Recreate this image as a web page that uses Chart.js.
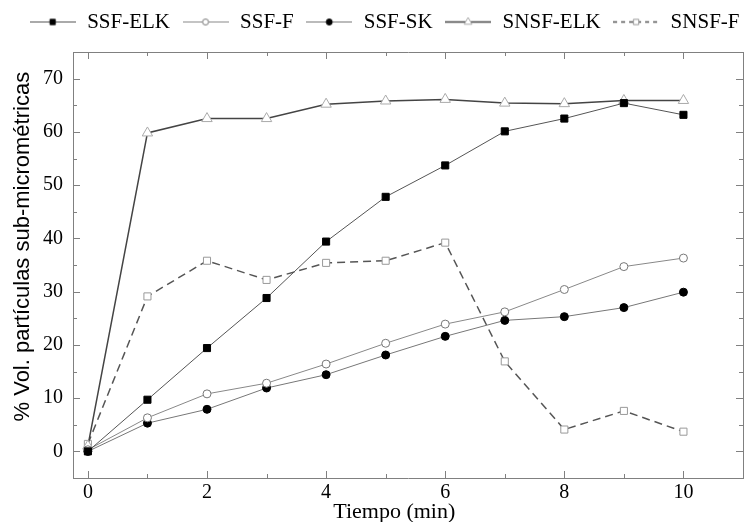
<!DOCTYPE html>
<html>
<head>
<meta charset="utf-8">
<script src="https://cdn.jsdelivr.net/npm/chart.js@4.4.1/dist/chart.umd.min.js"></script>
<style>
  html, body { margin: 0; padding: 0; background: #fff; }
  #wrap { width: 751px; height: 522px; }
</style>
</head>
<body>
<div id="wrap"><canvas id="myChart"></canvas></div>
<script>
// data
let TIEMPO = [0, 1, 2, 3, 4, 5, 6, 7, 8, 9, 10]
let SSF_ELK = [0, 9.7, 19.4, 28.8, 39.4, 47.8, 53.7, 60.1, 62.5, 65.4, 63.2]
let SSF_F = [0.3, 6.3, 10.8, 12.8, 16.4, 20.3, 23.9, 26.2, 30.4, 34.7, 36.3]
let SSF_SK = [0, 5.3, 7.9, 11.9, 14.4, 18.1, 21.6, 24.6, 25.3, 27.0, 29.9]
let SNSF_ELK = [1.0, 59.8, 62.5, 62.5, 65.2, 65.8, 66.1, 65.4, 65.3, 65.9, 65.9]
let SNSF_F = [1.4, 29.1, 35.8, 32.2, 35.4, 35.8, 39.2, 16.9, 4.1, 7.6, 3.7]

let X_TICKS = [0, 2, 4, 6, 8, 10]
let X_MINOR = [1, 3, 5, 7, 9]
let Y_TICKS = [0, 10, 20, 30, 40, 50, 60, 70]
let Y_MINOR = [5, 15, 25, 35, 45, 55, 65]

const AXIS_GRAY = '#808080'
const SERIF = "'Liberation Serif', 'Times New Roman', serif"
const SANS = "'Liberation Sans', Arial, sans-serif"
const NB = '\u00a0'

let ctx = document.getElementById('myChart');

// legend icon: line - marker - line, drawn once into a small canvas
function legendIcon(ds) {
    let c = document.createElement('canvas');
    c.width = 46;
    c.height = 21;
    let g = c.getContext('2d');
    g.strokeStyle = ds.borderColor;
    g.lineWidth = ds.borderWidth;
    g.setLineDash(ds.legendDash || []);
    g.beginPath();
    g.moveTo(0, 10.5);
    g.lineTo(46, 10.5);
    g.stroke();
    g.setLineDash([]);
    g.fillStyle = ds.pointBackgroundColor;
    g.strokeStyle = ds.pointBorderColor;
    g.lineWidth = 1;
    Chart.helpers.drawPoint(g, {
        pointStyle: ds.pointStyle,
        radius: ds.pointRadius * 0.75,
        borderWidth: 1,
        rotation: 0
    }, 23, 10.5);
    return c;
}

// small inward ticks on all four sides of the frame
const innerTicks = {
    id: 'innerTicks',
    beforeDatasetsDraw(chart) {
        const { ctx, chartArea: a, scales: { x, y } } = chart;
        ctx.save();
        ctx.strokeStyle = AXIS_GRAY;
        ctx.lineWidth = 1;
        ctx.beginPath();
        const vx = (v, len) => {
            const px = Math.round(x.getPixelForValue(v)) + 0.5;
            ctx.moveTo(px, a.bottom); ctx.lineTo(px, a.bottom - len);
            ctx.moveTo(px, a.top); ctx.lineTo(px, a.top + len);
        };
        const hy = (v, len) => {
            const py = Math.round(y.getPixelForValue(v)) + 0.5;
            ctx.moveTo(a.left, py); ctx.lineTo(a.left + len, py);
            ctx.moveTo(a.right, py); ctx.lineTo(a.right - len, py);
        };
        X_TICKS.forEach(v => vx(v, 7));
        X_MINOR.forEach(v => vx(v, 4));
        Y_TICKS.forEach(v => hy(v, 7));
        Y_MINOR.forEach(v => hy(v, 4));
        ctx.stroke();
        ctx.restore();
    }
};

let myChart = new Chart(ctx, {
    type: 'line',
    data: {
        labels: TIEMPO,
        datasets: [{
            label: 'SSF-ELK',
            data: SSF_ELK,
            borderColor: '#555',
            borderWidth: 1,
            pointStyle: 'rect',
            pointRadius: 5,
            pointBackgroundColor: '#000',
            pointBorderColor: '#000',
            pointBorderWidth: 1
        },
        {
            label: 'SSF-F',
            data: SSF_F,
            borderColor: '#888',
            borderWidth: 1,
            pointStyle: 'circle',
            pointRadius: 4,
            pointBackgroundColor: '#fff',
            pointBorderColor: '#777',
            pointBorderWidth: 1
        },
        {
            label: 'SSF-SK',
            data: SSF_SK,
            borderColor: '#777',
            borderWidth: 1,
            pointStyle: 'circle',
            pointRadius: 4,
            pointBackgroundColor: '#000',
            pointBorderColor: '#000',
            pointBorderWidth: 1
        },
        {
            label: 'SNSF-ELK',
            data: SNSF_ELK,
            borderColor: '#444',
            borderWidth: 1.5,
            pointStyle: 'triangle',
            pointRadius: 6,
            pointBackgroundColor: '#fff',
            pointBorderColor: '#aaa',
            pointBorderWidth: 1
        },
        {
            label: 'SNSF-F',
            data: SNSF_F,
            borderColor: '#555',
            borderWidth: 1.5,
            borderDash: [8, 5],
            legendDash: [4, 4],
            pointStyle: 'rect',
            pointRadius: 5,
            pointBackgroundColor: '#fff',
            pointBorderColor: '#999',
            pointBorderWidth: 1
        }]
    },
    options: {
        responsive: true,
        maintainAspectRatio: false,
        animation: false,
        layout: { padding: 0 },
        plugins: {
            tooltip: { enabled: false },
            legend: {
                position: 'top',
                align: 'end',
                labels: {
                    usePointStyle: true,
                    pointStyleWidth: 48,
                    padding: 11.5,
                    color: '#000',
                    font: { family: SERIF, size: 21 },
                    generateLabels: (chart) => chart.data.datasets.map((ds, i) => ({
                        text: ds.label,
                        pointStyle: legendIcon(ds),
                        fillStyle: 'transparent',
                        strokeStyle: 'transparent',
                        lineWidth: 0,
                        fontColor: '#000',
                        hidden: false,
                        datasetIndex: i
                    }))
                }
            }
        },
        scales: {
            x: {
                type: 'linear',
                position: 'bottom',
                min: -0.25,
                max: 11,
                afterBuildTicks: (s) => { s.ticks = X_TICKS.map(v => ({ value: v })) },
                afterFit: (s) => { s.height = 44 },
                grid: { display: false, drawTicks: false },
                border: { display: true, color: AXIS_GRAY, width: 1 },
                ticks: { color: '#000', padding: 3, maxRotation: 0, font: { family: SERIF, size: 20 } },
                title: {
                    display: true,
                    // trailing spaces nudge the centred title a bit to the left, as in the reference
                    text: 'Tiempo (min)' + NB.repeat(5),
                    color: '#000',
                    padding: { top: 0, bottom: -3 },
                    font: { family: SERIF, size: 22 }
                }
            },
            x2: {
                type: 'linear',
                position: 'top',
                min: -0.25,
                max: 11,
                afterFit: (s) => { s.height = 9.5 },
                grid: { display: false, drawTicks: false },
                border: { display: true, color: AXIS_GRAY, width: 1 },
                ticks: { display: false }
            },
            y: {
                position: 'left',
                min: -5,
                max: 75,
                afterBuildTicks: (s) => { s.ticks = Y_TICKS.map(v => ({ value: v })) },
                afterFit: (s) => { s.width = 73 },
                grid: { display: false, drawTicks: false },
                border: { display: true, color: AXIS_GRAY, width: 1 },
                ticks: { color: '#000', padding: 10, font: { family: SERIF, size: 20 } },
                title: {
                    display: true,
                    // leading spaces push the rotated title up a little
                    text: NB.repeat(6) + '% Vol. partículas sub-micrométricas',
                    color: '#000',
                    padding: { top: 10, bottom: 0 },
                    font: { family: SANS, size: 22 }
                }
            },
            y2: {
                position: 'right',
                min: -5,
                max: 75,
                afterFit: (s) => { s.width = 8 },
                grid: { display: false, drawTicks: false },
                border: { display: true, color: AXIS_GRAY, width: 1 },
                ticks: { display: false }
            }
        }
    },
    plugins: [innerTicks]
});
</script>
</body>
</html>
